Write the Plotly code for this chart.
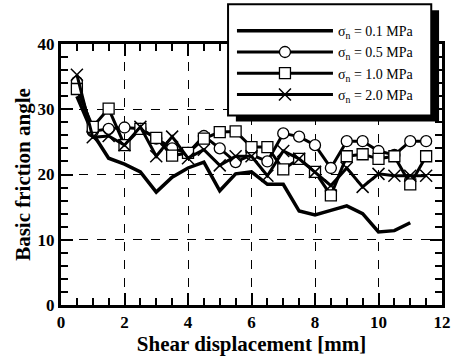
import plotly.graph_objects as go

x01 = [0.5, 1, 1.5, 2, 2.5, 3, 3.5, 4, 4.5, 5, 5.5, 6, 6.5, 7, 7.5, 8, 8.5, 9, 9.5, 10, 10.5, 11]
y01 = [32.0, 26.3, 22.5, 21.6, 20.4, 17.3, 19.6, 21.0, 21.9, 17.5, 20.1, 20.4, 18.5, 18.5, 14.4, 13.8, 14.5, 15.2, 14.0, 11.2, 11.4, 12.6]

x_all = [0.5, 1, 1.5, 2, 2.5, 3, 3.5, 4, 4.5, 5, 5.5, 6, 6.5, 7, 7.5, 8, 8.5, 9, 9.5, 10, 10.5, 11, 11.5]
y05 = [34.2, 26.6, 27.0, 27.2, 27.0, 25.5, 24.0, 23.3, 25.9, 24.0, 21.9, 23.0, 22.0, 26.3, 25.8, 24.5, 21.0, 25.1, 25.1, 23.6, 23.0, 25.1, 25.1]
y10 = [33.1, 27.3, 30.1, 24.5, 27.0, 25.6, 22.9, 23.3, 25.5, 26.5, 26.6, 24.2, 24.2, 20.8, 22.4, 20.4, 16.8, 22.8, 23.1, 22.4, 22.8, 18.5, 22.8]
y20 = [35.3, 25.7, 25.9, 24.5, 27.3, 22.8, 25.8, 22.5, 23.8, 21.4, 22.8, 22.8, 19.8, 23.6, 22.4, 20.4, 18.3, 21.0, 18.1, 20.1, 19.8, 19.8, 19.8]

names = ["σ<sub>n</sub> = 0.1 MPa", "σ<sub>n</sub> = 0.5 MPa", "σ<sub>n</sub> = 1.0 MPa", "σ<sub>n</sub> = 2.0 MPa"]

fig = go.Figure()
fig.add_trace(go.Scatter(x=x01, y=y01, mode="lines", name=names[0],
                         line=dict(color="black", width=3.5)))
fig.add_trace(go.Scatter(x=x_all, y=y05, mode="lines+markers", name=names[1],
                         line=dict(color="black", width=3),
                         marker=dict(symbol="circle", size=11, color="white",
                                     line=dict(color="black", width=1.3))))
fig.add_trace(go.Scatter(x=x_all, y=y10, mode="lines+markers", name=names[2],
                         line=dict(color="black", width=3),
                         marker=dict(symbol="square", size=11, color="white",
                                     line=dict(color="black", width=1.3))))
fig.add_trace(go.Scatter(x=x_all, y=y20, mode="lines+markers", name=names[3],
                         line=dict(color="black", width=3),
                         marker=dict(symbol="x-thin-open", size=12, color="black",
                                     line=dict(color="black", width=1.5))))

tick_font = dict(family="Liberation Serif", size=17, color="black", weight="bold")
title_font = dict(family="Liberation Serif", size=21, color="black", weight="bold")
common = dict(showline=True, linewidth=3, linecolor="black", mirror="ticks",
              ticks="inside", tickwidth=2, tickcolor="black", ticklen=12,
              showgrid=True, gridcolor="black", gridwidth=1.3, griddash="dash",
              zeroline=False, tickfont=tick_font)

fig.update_xaxes(range=[0, 12], dtick=2, tick0=0,
                 minor=dict(dtick=0.5, ticks="inside", ticklen=7, tickwidth=2,
                            tickcolor="black", showgrid=False),
                 title=dict(text="Shear displacement [mm]", font=title_font, standoff=4),
                 **common)
fig.update_yaxes(range=[0, 40], dtick=10, tick0=0,
                 minor=dict(dtick=2, ticks="inside", ticklen=7, tickwidth=2,
                            tickcolor="black", showgrid=False),
                 title=dict(text="Basic friction angle", font=title_font, standoff=2),
                 **common)

W, H = 460, 360
ml, mr, mt, mb = 61, 9, 44, 53
pw, ph = W - ml - mr, H - mt - mb

def px_to_paper(px, py):
    return (px - ml) / pw, (H - mb - py) / ph

# legend shadow and box
sx0, sy0 = px_to_paper(240, 10)
sx1, sy1 = px_to_paper(448, 122)
fig.add_shape(type="rect", xref="paper", yref="paper", x0=sx0, y0=sy1, x1=sx1, y1=sy0,
              fillcolor="black", line=dict(width=0), layer="above")
bx0, by0 = px_to_paper(232, 4)
bx1, by1 = px_to_paper(440, 116)
fig.add_shape(type="rect", xref="paper", yref="paper", x0=bx0, y0=by1, x1=bx1, y1=by0,
              fillcolor="white", line=dict(color="black", width=2), layer="above")

lx, ly = px_to_paper(236, 15)
fig.update_layout(
    width=W, height=H,
    margin=dict(l=ml, r=mr, t=mt, b=mb),
    paper_bgcolor="white", plot_bgcolor="white",
    showlegend=True,
    legend=dict(x=lx, y=ly, xanchor="left", yanchor="top",
                bgcolor="rgba(0,0,0,0)", borderwidth=0,
                font=dict(family="Liberation Serif", size=14, color="black"),
                itemwidth=96, tracegroupgap=0),
)

fig.write_html("out.html")
